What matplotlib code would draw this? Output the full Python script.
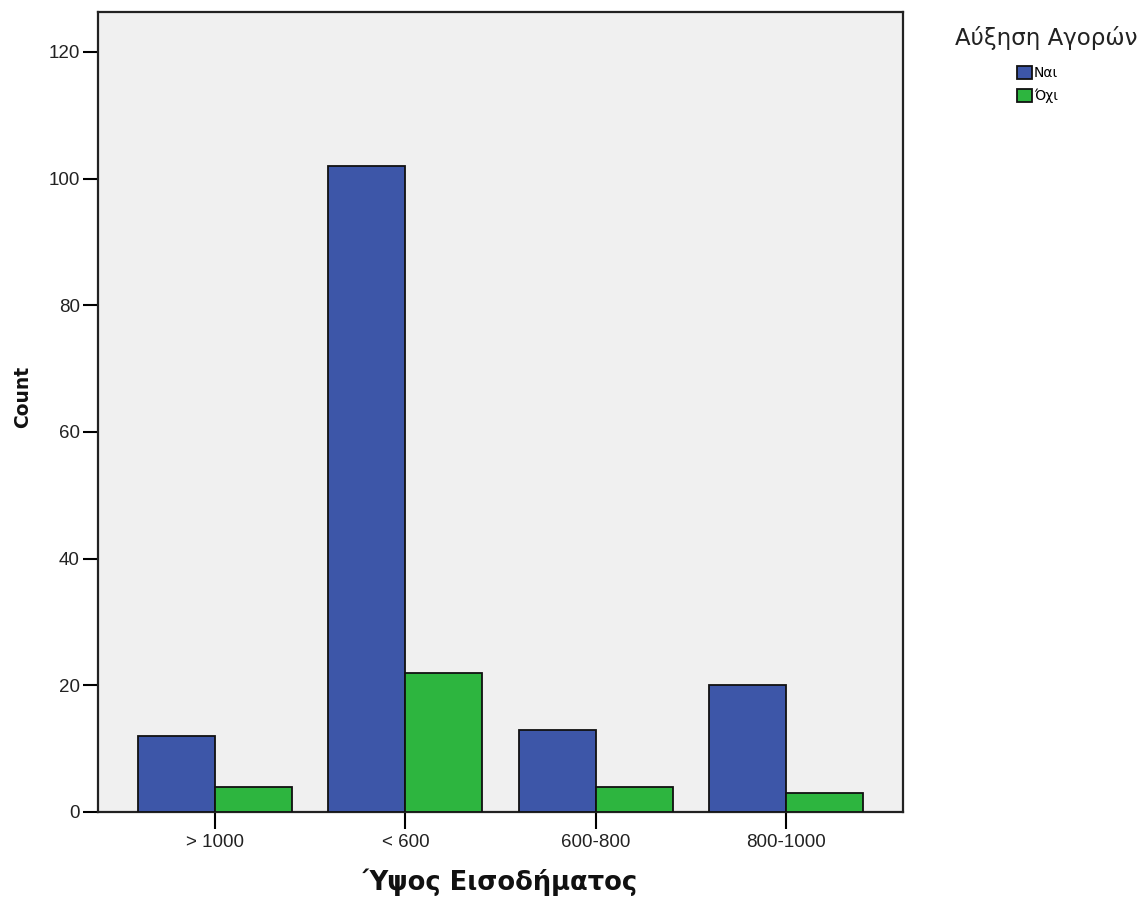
import numpy as np
import matplotlib
matplotlib.use("Agg")
import matplotlib.pyplot as plt

# Income bands and purchase-increase counts
categories = ["> 1000", "< 600", "600-800", "800-1000"]
series_names = ["Ναι", "Όχι"]
legend_title = "Αύξηση Αγορών"
counts_nai = [12, 102, 13, 20]
counts_oxi = [4, 22, 4, 3]
y_ticks = [0, 20, 40, 60, 80, 100, 120]

W, H = 1143, 898
fig = plt.figure(figsize=(W / 100, H / 100), dpi=100)
fig.patch.set_facecolor("white")

ax_l, ax_r, ax_t, ax_b = 98, 903, 12, 812
ax = fig.add_axes([ax_l / W, 1 - ax_b / H, (ax_r - ax_l) / W, (ax_b - ax_t) / H])
ax.set_facecolor("#f0f0f0")

x = np.arange(len(categories))
width = 0.405
edge = "#111111"
b1 = ax.bar(x - width / 2, counts_nai, width, color="#3d56a8",
            edgecolor=edge, linewidth=1.3, label=series_names[0], zorder=3)
b2 = ax.bar(x + width / 2, counts_oxi, width, color="#2db53f",
            edgecolor=edge, linewidth=1.3, label=series_names[1], zorder=3)

ax.set_xlim(-0.616, len(categories) - 1 + 0.616)
ax.set_ylim(0, 126.3)

ax.set_yticks(y_ticks)
ax.set_yticklabels([str(v) for v in y_ticks], fontsize=13.5,
                   family="Liberation Sans", color="#222222")
ax.set_xticks(x)
ax.set_xticklabels(categories, fontsize=13.5, family="Liberation Sans",
                   color="#222222")
ax.tick_params(axis="y", direction="out", length=11, width=1.5, pad=2)
ax.tick_params(axis="x", direction="out", length=12, width=1.5, pad=4)

for s in ax.spines.values():
    s.set_linewidth(1.6)
    s.set_color("#222222")

ax.set_ylabel("Count", fontsize=13.5, fontweight="bold",
              family="DejaVu Sans", color="#111111")
ax.yaxis.label.set_va("center")
ax.yaxis.set_label_coords((23 - ax_l) / (ax_r - ax_l),
                          (ax_b - 397) / (ax_b - ax_t))
ax.set_xlabel("Ύψος Εισοδήματος", fontsize=18.5, fontweight="bold",
              family="DejaVu Sans", color="#111111")
ax.xaxis.label.set_va("center")
ax.xaxis.set_label_coords(0.5, (ax_b - 882) / (ax_b - ax_t))

# Legend: title text plus a compact entry block beneath it
fig.text(955 / W, 1 - 38 / H, legend_title, fontsize=16.5,
         family="DejaVu Sans", color="#222222", ha="left", va="center")
ax.legend(handles=[b1, b2], loc="upper left",
          bbox_to_anchor=(1017 / W, 1 - 66 / H),
          bbox_transform=fig.transFigure, frameon=False,
          prop={"family": "DejaVu Sans", "size": 10},
          handlelength=1.08, handleheight=1.08, handletextpad=0.15,
          labelspacing=0.6, borderpad=0, borderaxespad=0)

fig.savefig("out.png", dpi=100)
